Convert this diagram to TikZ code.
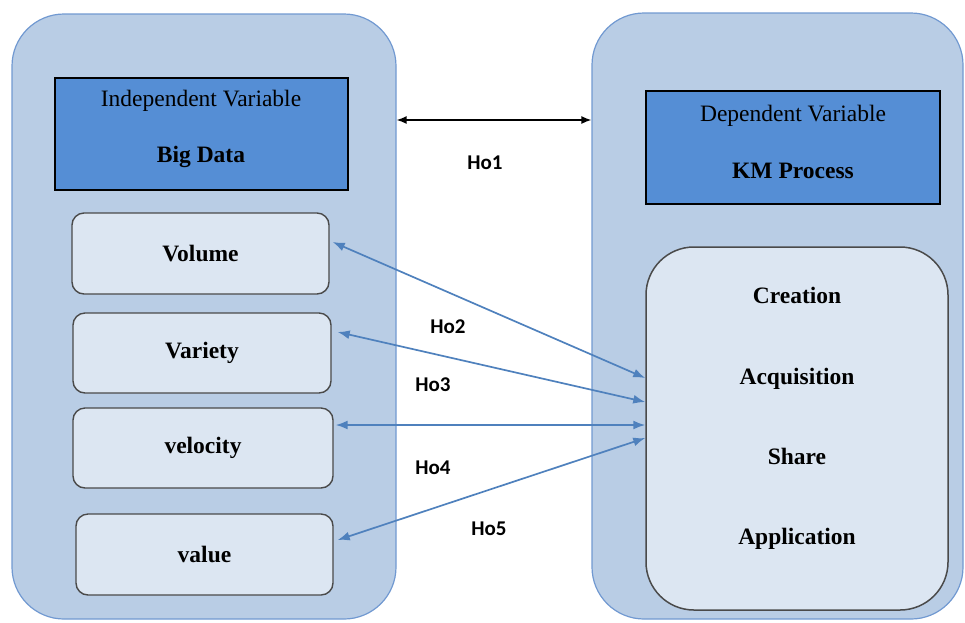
\documentclass[tikz,border=0pt]{standalone}
\usepackage{fontspec}
\setmainfont{Liberation Serif}
\newfontfamily\hofont{Carlito}
\usetikzlibrary{arrows.meta}
\definecolor{panelfill}{HTML}{B9CDE5}
\definecolor{paneledge}{HTML}{7199D1}
\definecolor{headfill}{HTML}{558ED5}
\definecolor{itemfill}{HTML}{DCE6F2}
\definecolor{itemedge}{HTML}{4A4A4A}
\definecolor{linkblue}{HTML}{4F81BD}
\tikzset{
  panel/.style={draw=paneledge, line width=1.2pt, fill=panelfill, rounded corners=52pt, inner sep=0pt},
  header/.style={draw=black, line width=1.5pt, fill=headfill, inner sep=0pt},
  item/.style={draw=itemedge, line width=1.4pt, fill=itemfill, rounded corners=12pt, inner sep=0pt,
    font=\fontsize{23.5}{28}\selectfont\bfseries},
  listbox/.style={draw=itemedge, line width=1.5pt, fill=itemfill, rounded corners=48pt, inner sep=0pt},
  txt/.style={align=center, inner sep=0pt},
  holabel/.style={font=\hofont\fontsize{21}{24}\selectfont\bfseries, inner sep=0pt},
  link/.style={draw=linkblue, line width=1.7pt, {Latex[length=12pt,width=9pt]}-{Latex[length=12pt,width=9pt]}},
  blacklink/.style={draw=black, line width=1.5pt, {Latex[length=10pt,width=8pt]}-{Latex[length=10pt,width=8pt]}}
}
\begin{document}
\begin{tikzpicture}[x=1pt, y=-1pt]
\useasboundingbox (0,0) rectangle (965,622);

% the two panels
\node[panel, minimum width=384pt, minimum height=605pt] (indep) at (204,316.5) {};
\node[panel, minimum width=371pt, minimum height=606pt] (dep) at (777.5,316) {};

% header boxes
\node[header, minimum width=293pt, minimum height=112pt] (ivar) at (201.5,134) {};
\node[txt, font=\fontsize{23.5}{56}\selectfont] (ivartext) at (201,129)
  {Independent Variable\\\textbf{Big Data}};
\node[header, minimum width=294pt, minimum height=113pt] (dvar) at (793,147.5) {};
\node[txt, font=\fontsize{23.5}{57}\selectfont] (dvartext) at (793,141.5)
  {Dependent Variable\\\textbf{KM Process}};

% the four V's
\node[item, minimum width=257pt, minimum height=81pt] (vol) at (200.5,253.5) {Volume};
\node[item, minimum width=258pt, minimum height=80pt] (var) at (202,353) {Variety};
\node[item, minimum width=260pt, minimum height=80pt] (vel) at (203,448) {velocity};
\node[item, minimum width=257pt, minimum height=81pt] (val) at (204.5,554.5) {value};

% KM process stages
\node[listbox, minimum width=302pt, minimum height=363pt] (km) at (797,428.5) {};
\node[txt, font=\fontsize{23.5}{80.3}\selectfont\bfseries] (kmtext) at (797,418.5)
  {Creation\\Acquisition\\Share\\Application};

% hypotheses
\coordinate (h1) at (0,120);
\draw[blacklink] (indep.east |- h1) -- (dep.west |- h1);
\node[holabel] (ho1) at (485,163) {Ho1};

\draw[link] ([xshift=3pt,yshift=11.5pt]vol.east) -- ([yshift=50.5pt]km.west);
\draw[link] ([xshift=6pt,yshift=21pt]var.east) -- ([yshift=26.5pt]km.west);
\draw[link] ([xshift=2pt,yshift=23pt]vel.east) -- ([yshift=3.5pt]km.west);
\draw[link] ([xshift=4pt,yshift=14.5pt]val.east) -- ([yshift=-9.5pt]km.west);

\node[holabel] (ho2) at (448,327) {Ho2};
\node[holabel] (ho3) at (433,385) {Ho3};
\node[holabel] (ho4) at (433,468) {Ho4};
\node[holabel] (ho5) at (489,529) {Ho5};
\end{tikzpicture}
\end{document}
